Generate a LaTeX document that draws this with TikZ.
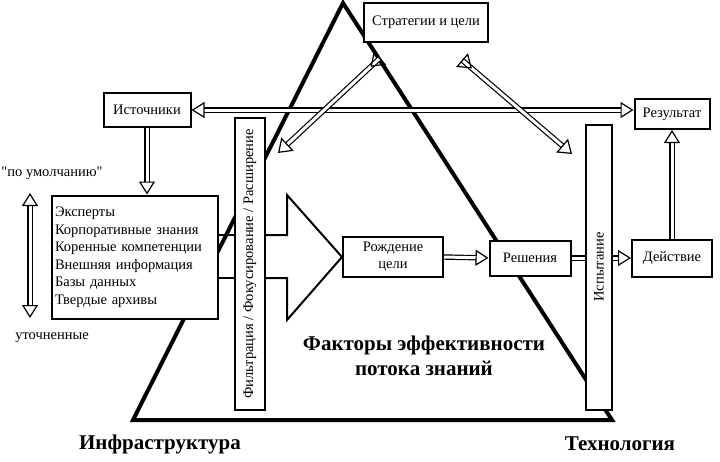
\documentclass[tikz,border=0pt]{standalone}
\usepackage{fontspec}
\setmainfont{Liberation Serif}
\usetikzlibrary{arrows.meta, positioning, calc}
\tikzset{box/.style={draw, line width=2pt, inner sep=2pt, font=\fontsize{14.5}{17}\selectfont}}
\tikzset{flow/.style={line width=1.2pt, double, double distance=3pt, -{Triangle[open, length=13pt, width=16pt]}}}
\tikzset{twoway/.style={flow, {Triangle[open, length=13pt, width=16pt]}-{Triangle[open, length=13pt, width=16pt]}}}
\tikzset{feather/.style={flow, {Triangle[open, reversed, length=13pt, width=18pt]}-{Triangle[open, length=13pt, width=18pt]}}}
\tikzset{bigtext/.style={font=\bfseries\fontsize{21}{25}\selectfont, align=center}}

\begin{document}
\begin{tikzpicture}[x=1pt, y=-1pt]
        \useasboundingbox (0,0) rectangle (720,461);
        % triangle
        \coordinate (Ttop) at (343,3);
        \coordinate (Tleft) at (133,420);
        \coordinate (Tright) at (612,420);
        \draw[line width=4pt, line join=miter] (Ttop) -- (Tleft) -- (Tright) -- cycle;

        % boxes
        \node[box, fill=white, minimum width=124pt, minimum height=39pt] (Nstrat) at (426,22) {Стратегии и цели};
        \node[box, fill=white, minimum width=87pt, minimum height=34pt] (Nsrc) at (147,110) {Источники};
        \node[box, fill=white, minimum width=75pt, minimum height=30pt] (Nres) at (672,114) {Результат};
        \node[box, fill=white, minimum width=166pt, minimum height=123pt, align=left, text width=160pt, font=\fontsize{14.5}{17.5}\selectfont] (Nlist) at (135,257)
            {Эксперты\\Корпоративные знания\\Коренные компетенции\\Внешняя информация\\Базы данных\\Твердые архивы};
        \node[box, fill=white, minimum width=30pt, minimum height=292pt] (Nfilt) at (250,264) {};
        \node[rotate=90, font=\fontsize{14.5}{17}\selectfont] at (Nfilt) {Фильтрация / Фокусирование / Расширение};
        \node[box, fill=white, minimum width=26pt, minimum height=285pt] (Ntest) at (599,267) {};
        \node[rotate=90, font=\fontsize{14.5}{17}\selectfont] at (Ntest) {Испытание};

        % big arrow through the filter
        \draw[line width=2pt] (Nlist.east |- 0,235) -- (Nfilt.west |- 0,235);
        \draw[line width=2pt] (Nlist.east |- 0,278) -- (Nfilt.west |- 0,278);
        \draw[line width=2pt] (Nfilt.east |- 0,235) -- (287,235) -- (287,195) -- (342,257)
            -- (287,320) -- (287,278) -- (Nfilt.east |- 0,278);

        \node[box, fill=white, minimum width=100pt, minimum height=40pt, align=center] (Nbirth) at (393,257) {Рождение\\цели};
        \node[box, fill=white, minimum width=81pt, minimum height=35pt] (Nsol) at (530,258) {Решения};
        \node[box, fill=white, minimum width=80pt, minimum height=37pt] (Nact) at (672,258) {Действие};

        % connectors
        \draw[twoway] (Nsrc.east) -- (Nres.west |- Nsrc.east);
        \draw[flow] (Nsrc.south) -- (Nsrc.south |- Nlist.north);
        \draw[flow] (Nbirth.east) -- (Nsol.west);
        \draw[line width=1.2pt, double, double distance=3pt] (Nsol.east) -- (Ntest.west |- Nsol.east);
        \draw[flow] (Ntest.east |- Nact.west) -- (Nact.west);
        \draw[flow] (Nact.north) -- (Nres.south -| Nact.north);
        \coordinate (Cleft) at (380,58);
        \coordinate (Cright) at (462,60);
        \coordinate (Hleft) at (278,153);
        \coordinate (Hright) at (572,154);
        \draw[feather] (Cleft) -- (Hleft);
        \draw[feather] (Cright) -- (Hright);

        % scale on the left
        \coordinate (Sup) at (30,193);
        \coordinate (Sdown) at (30,318);
        \draw[twoway] (Sup) -- (Sdown);
        \node[font=\fontsize{14.5}{17}\selectfont] (Ndef) at (52,173) {\textquotedbl по умолчанию\textquotedbl};
        \node[font=\fontsize{14.5}{17}\selectfont] (Nref) at (52,338) {уточненные};

        % labels
        \node[bigtext] (Nfactors) at (424,356) {Факторы эффективности\\потока знаний};
        \node[bigtext] (Ninfra) at (160,444) {Инфраструктура};
        \node[bigtext] (Ntech) at (620,444) {Технология};
    \end{tikzpicture}
\end{document}
